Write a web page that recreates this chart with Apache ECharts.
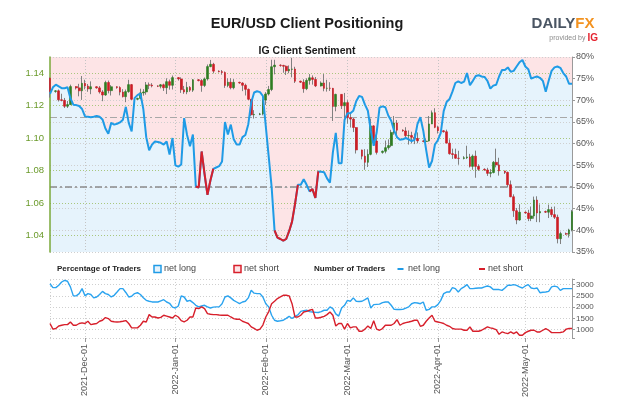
<!DOCTYPE html>
<html><head><meta charset="utf-8">
<script src="https://cdn.jsdelivr.net/npm/echarts@6/dist/echarts.min.js"></script>
<style>html,body{margin:0;padding:0;background:#fff}#c{width:624px;height:416px}</style>
</head><body><div id="c"></div>
<script>
// ---------- data ----------
const START_UTC = Date.UTC(2021, 10, 19);   // first day shown (2021-Nov-19)
const DAY_COUNT = 180;
const MONTHS = ['Jan','Feb','Mar','Apr','May','Jun','Jul','Aug','Sep','Oct','Nov','Dec'];
const priceLabels = [1.04, 1.06, 1.08, 1.10, 1.12, 1.14];
const countLabels = [1000, 1500, 2000, 2500, 3000];

// % of traders net long (right axis, top panel), one value per day
const sentiment = [
71.5,73.0,73.6,73.2,72.8,72.8,73.0,70.5,69.0,68.9,
68.7,68.0,66.3,66.2,66.1,66.2,66.4,66.2,65.6,63.5,
62.3,64.8,64.4,64.6,64.9,65.5,68.5,64.8,62.8,70.5,
71.2,71.6,68.0,61.5,58.5,59.8,60.5,60.4,60.2,59.8,
60.5,57.5,61.3,55.0,54.7,55.2,65.9,62.0,59.4,62.1,
50.1,49.9,58.2,53.0,48.2,51.5,54.2,54.5,54.8,55.9,
65.0,62.1,64.4,61.0,59.8,59.8,61.5,62.0,64.5,69.5,
71.8,72.1,71.9,71.0,64.0,57.0,50.0,40.0,38.3,38.0,
37.6,38.0,39.8,42.0,46.0,50.5,50.5,51.8,50.5,49.0,
49.5,47.5,53.6,53.5,53.4,52.0,51.0,58.0,62.5,55.5,
55.5,65.5,67.0,67.0,67.6,69.8,71.0,70.8,69.0,67.6,
63.0,59.5,62.5,68.3,68.6,68.4,66.5,65.3,63.0,61.5,
60.9,61.0,61.3,61.0,60.6,60.9,64.5,66.1,63.0,58.5,
54.5,56.0,59.8,60.8,62.5,67.5,69.6,70.3,72.0,74.0,
74.4,74.0,74.3,76.3,73.5,74.5,75.6,75.8,75.5,75.4,
74.5,72.7,73.4,73.6,75.5,77.0,77.0,77.6,76.6,76.8,
77.8,78.8,79.3,77.8,77.2,75.0,75.3,75.5,75.2,74.5,
72.0,74.5,76.8,77.6,77.8,77.5,76.3,75.5,73.8,73.8
];
// day-index ranges where the sentiment line is drawn red (net short)
const netShortRanges = [[50,56],[77,85],[89,92]];

// number of traders
const netLongCount = [
3040,2866,2866,2969,3116,3190,3150,2900,2500,2500,
2600,2822,2500,2600,2560,2410,2450,2560,2700,2600,
2560,2450,2525,2671,2822,2822,2650,2450,2480,2600,
2640,2560,2420,2300,2260,2230,2227,2227,2280,2330,
2227,2170,2000,1960,2050,2500,2450,2260,2300,2200,
2081,2010,2050,2081,2010,1960,2000,2010,2010,2150,
2450,2500,2410,2300,2227,2150,2227,2260,2410,2745,
2620,2600,2600,2450,2150,2010,1637,1415,1370,1390,
1415,1500,1590,1490,1590,1650,1810,1840,1860,1800,
1783,1770,1760,1800,1860,1860,2010,1934,1700,1600,
1960,2081,2300,2260,2410,2260,2250,2260,2330,2410,
1960,2110,2120,2130,2200,2227,2227,2081,1900,1890,
1890,1900,1950,2010,2150,2200,2180,2150,2227,1860,
1900,2010,2010,2110,2300,2600,2671,2671,2866,2822,
2671,2822,2900,3000,2822,2822,2840,2850,2850,2900,
2940,2900,2780,2780,2780,2745,2850,2969,2969,3000,
2969,2900,2850,2940,3000,2850,2822,2850,2640,2660,
2671,2700,2900,2930,2900,2745,2822,2822,2822,2822
];
const netShortCount = [
1270,1020,1046,1160,1190,1220,1220,1339,1193,1193,
1270,1300,1270,1370,1220,1250,1270,1370,1415,1535,
1490,1370,1350,1339,1350,1370,1400,1270,1075,1075,
1075,1193,1370,1339,1665,1560,1560,1515,1540,1637,
1600,1560,1515,1637,1560,1400,1339,1415,1560,1560,
1960,1934,2010,1934,1710,1680,1665,1665,1650,1637,
1637,1637,1560,1490,1460,1460,1370,1320,1270,1120,
1050,970,1020,1200,1560,1800,2150,2260,2378,2450,
2525,2525,2500,2150,1560,1560,1637,1783,1810,1860,
1900,1515,1515,1550,1590,1665,1783,1637,1160,1270,
1270,1020,1270,1075,1120,1120,925,925,1020,1160,
1046,1390,1020,970,1046,1193,1193,1193,1270,1445,
1193,1270,1310,1339,1370,1415,1415,1145,1193,1370,
1515,1637,1370,1339,1310,1270,1193,1145,1046,1020,
1020,1020,970,970,1120,925,925,925,970,1046,
1120,1075,1046,1000,790,895,850,820,895,820,
895,750,750,865,925,970,970,895,895,970,
1046,970,865,865,865,870,895,1020,1046,1046
];

// EUR/USD daily candles [open, close, low, high]; null = no candle (Saturday)
const candles = [
[1.1370,1.1288,1.1250,1.1374],null,[1.1288,1.1292,1.1280,1.1296],[1.1292,1.1237,1.1226,1.1300],[1.1237,1.1233,1.1227,1.1274],
[1.1233,1.1197,1.1186,1.1248],[1.1197,1.1207,1.1186,1.1229],[1.1207,1.1318,1.1206,1.1330],null,[1.1318,1.1310,1.1300,1.1320],
[1.1310,1.1292,1.1258,1.1335],[1.1292,1.1338,1.1236,1.1383],[1.1338,1.1321,1.1301,1.1360],[1.1321,1.1303,1.1286,1.1334],[1.1303,1.1317,1.1271,1.1350],
null,[1.1317,1.1310,1.1305,1.1320],[1.1310,1.1285,1.1275,1.1321],[1.1285,1.1266,1.1228,1.1296],[1.1266,1.1343,1.1261,1.1354],
[1.1343,1.1293,1.1276,1.1355],[1.1293,1.1317,1.1263,1.1327],null,[1.1317,1.1312,1.1305,1.1320],[1.1312,1.1284,1.1264,1.1320],
[1.1284,1.1256,1.1251,1.1302],[1.1256,1.1287,1.1222,1.1300],[1.1287,1.1330,1.1280,1.1360],[1.1330,1.1240,1.1235,1.1334],null,
[1.1240,1.1245,1.1235,1.1250],[1.1245,1.1279,1.1239,1.1305],[1.1279,1.1285,1.1262,1.1302],[1.1285,1.1328,1.1268,1.1346],[1.1328,1.1327,1.1302,1.1343],
[1.1327,1.1322,1.1313,1.1339],null,[1.1322,1.1320,1.1315,1.1326],[1.1320,1.1329,1.1307,1.1334],[1.1329,1.1311,1.1291,1.1336],
[1.1311,1.1348,1.1272,1.1369],[1.1348,1.1326,1.1299,1.1361],[1.1326,1.1373,1.1300,1.1386],null,[1.1373,1.1365,1.1355,1.1376],
[1.1365,1.1299,1.1279,1.1375],[1.1299,1.1285,1.1273,1.1322],[1.1285,1.1313,1.1271,1.1347],[1.1313,1.1296,1.1285,1.1321],[1.1296,1.1360,1.1285,1.1364],
null,[1.1360,1.1355,1.1350,1.1364],[1.1355,1.1325,1.1286,1.1364],[1.1325,1.1365,1.1315,1.1374],[1.1365,1.1441,1.1355,1.1454],
[1.1441,1.1455,1.1437,1.1482],[1.1455,1.1413,1.1399,1.1464],null,[1.1413,1.1410,1.1405,1.1418],[1.1410,1.1405,1.1391,1.1420],
[1.1405,1.1325,1.1310,1.1411],[1.1325,1.1345,1.1314,1.1369],[1.1345,1.1311,1.1301,1.1370],[1.1311,1.1344,1.1301,1.1364],null,
[1.1344,1.1340,1.1335,1.1348],[1.1340,1.1326,1.1290,1.1345],[1.1326,1.1301,1.1263,1.1336],[1.1301,1.1240,1.1234,1.1306],[1.1240,1.1144,1.1136,1.1240],
[1.1144,1.1147,1.1121,1.1173],null,[1.1147,1.1150,1.1142,1.1156],[1.1150,1.1235,1.1141,1.1244],[1.1235,1.1272,1.1205,1.1284],
[1.1272,1.1300,1.1263,1.1322],[1.1300,1.1440,1.1290,1.1483],[1.1440,1.1450,1.1393,1.1483],null,[1.1450,1.1448,1.1440,1.1455],
[1.1448,1.1443,1.1403,1.1452],[1.1443,1.1415,1.1389,1.1448],[1.1415,1.1424,1.1400,1.1448],[1.1424,1.1426,1.1375,1.1495],[1.1426,1.1351,1.1340,1.1440],
null,[1.1351,1.1345,1.1340,1.1355],[1.1345,1.1305,1.1280,1.1363],[1.1305,1.1356,1.1296,1.1369],[1.1356,1.1372,1.1330,1.1395],
[1.1372,1.1362,1.1330,1.1387],[1.1362,1.1322,1.1315,1.1377],null,[1.1322,1.1340,1.1318,1.1350],[1.1340,1.1307,1.1289,1.1395],
[1.1307,1.1308,1.1287,1.1360],[1.1308,1.1307,1.1291,1.1345],[1.1307,1.1196,1.1106,1.1310],[1.1196,1.1270,1.1166,1.1274],null,
[1.1270,1.1200,1.1180,1.1272],[1.1200,1.1219,1.1123,1.1279],[1.1219,1.1127,1.1090,1.1234],[1.1127,1.1118,1.1066,1.1152],[1.1118,1.1066,1.1038,1.1125],
[1.1066,1.0928,1.0906,1.1068],null,[1.0928,1.0890,1.0870,1.0930],[1.0890,1.0852,1.0806,1.0933],[1.0852,1.0901,1.0823,1.0932],
[1.0901,1.1076,1.0895,1.1121],[1.1076,1.0983,1.0970,1.1080],[1.0983,1.0913,1.0900,1.1044],null,[1.0913,1.0920,1.0905,1.0925],
[1.0920,1.0942,1.0907,1.0986],[1.0942,1.0955,1.0930,1.0993],[1.0955,1.1036,1.0945,1.1052],[1.1036,1.1094,1.1022,1.1137],[1.1094,1.1050,1.1004,1.1112],
null,[1.1050,1.1045,1.1040,1.1055],[1.1045,1.1016,1.0999,1.1068],[1.1016,1.1017,1.0961,1.1048],[1.1017,1.1006,1.0968,1.1040],
[1.1006,1.0999,1.0964,1.1029],[1.0999,1.0984,1.0969,1.1036],null,[1.0984,1.0980,1.0975,1.0990],[1.0980,1.0983,1.0944,1.0996],
[1.0983,1.1088,1.0980,1.1137],[1.1088,1.1157,1.1087,1.1171],[1.1157,1.1067,1.1062,1.1185],[1.1067,1.1046,1.1029,1.1077],null,
[1.1046,1.1040,1.1035,1.1050],[1.1040,1.0970,1.0969,1.1053],[1.0970,1.0905,1.0899,1.0993],[1.0905,1.0900,1.0873,1.0936],[1.0900,1.0877,1.0874,1.0936],
[1.0877,1.0876,1.0837,1.0923],null,[1.0876,1.0880,1.0870,1.0890],[1.0880,1.0885,1.0872,1.0954],[1.0885,1.0827,1.0820,1.0904],
[1.0827,1.0890,1.0806,1.0900],[1.0890,1.0827,1.0757,1.0924],[1.0827,1.0809,1.0799,1.0840],null,[1.0809,1.0805,1.0800,1.0815],
[1.0805,1.0784,1.0768,1.0818],[1.0784,1.0789,1.0760,1.0810],[1.0789,1.0852,1.0784,1.0860],[1.0852,1.0836,1.0821,1.0936],[1.0836,1.0799,1.0770,1.0880],
null,[1.0799,1.0790,1.0780,1.0800],[1.0790,1.0714,1.0697,1.0795],[1.0714,1.0640,1.0637,1.0740],[1.0640,1.0554,1.0516,1.0655],
[1.0554,1.0497,1.0471,1.0571],[1.0497,1.0545,1.0492,1.0594],null,[1.0545,1.0540,1.0535,1.0550],[1.0540,1.0506,1.0490,1.0560],
[1.0506,1.0522,1.0490,1.0580],[1.0522,1.0620,1.0505,1.0641],[1.0620,1.0540,1.0484,1.0643],[1.0540,1.0549,1.0483,1.0593],null,
[1.0549,1.0545,1.0540,1.0555],[1.0545,1.0561,1.0509,1.0592],[1.0561,1.0530,1.0516,1.0578],[1.0530,1.0514,1.0503,1.0580],[1.0514,1.0382,1.0353,1.0530],
[1.0382,1.0413,1.0349,1.0425],null,[1.0413,1.0410,1.0405,1.0420],[1.0410,1.0436,1.0389,1.0443],[1.0436,1.0548,1.0427,1.0559]
];

// ---------- build ----------
const days = [];
for (let i = 0; i < DAY_COUNT; i++) {
  const d = new Date(START_UTC + i * 864e5);
  days.push(d.getUTCFullYear() + '-' + MONTHS[d.getUTCMonth()] + '-' + String(d.getUTCDate()).padStart(2, '0'));
}
const isMonthStart = (idx, val) => String(val === undefined ? days[idx] : val).endsWith('-01');
const NA = ['-','-','-','-'];
const bodyData = candles.map(c => c ? [c[0], c[1], Math.min(c[0], c[1]), Math.max(c[0], c[1])] : NA);
const wickData = candles.map(c => c ? [c[2], c[3], c[2], c[3]] : NA);
const inShort = i => netShortRanges.some(r => i >= r[0] && i <= r[1]);
const redLine = sentiment.map((v, i) => inShort(i) ? v : '-');

const FONT = "'Liberation Sans', Arial, sans-serif";
const NARROW = "'Liberation Sans Narrow', 'Liberation Sans', Arial, sans-serif";
const BLUE = '#1f9be6', RED = '#d71f2b';
const GRID = { left: 50, right: 52 };
const dotted = c => ({ color: c, type: [1, 2], width: 1 });
const noMarkSym = ['none', 'none'];

const option = {
  animation: false,
  backgroundColor: '#fff',
  grid: [
    { left: GRID.left, right: GRID.right, top: 57, height: 195, show: true, backgroundColor: '#fde4e6', borderWidth: 0, z: 0 },
    { left: GRID.left, right: GRID.right, top: 279, height: 59, show: false }
  ],
  xAxis: [
    { type: 'category', gridIndex: 0, data: days, boundaryGap: false, z: 2,
      axisLine: { show: false }, axisTick: { show: false }, axisLabel: { show: false },
      splitLine: { show: true, interval: isMonthStart, lineStyle: dotted('#c4c4c4') } },
    { type: 'category', gridIndex: 1, data: days, boundaryGap: false, z: 2,
      axisLine: { show: false },
      axisTick: { show: true, interval: isMonthStart, length: 4, lineStyle: { color: '#999' } },
      axisLabel: { show: true, interval: isMonthStart, rotate: 90, fontSize: 9, color: '#555', fontFamily: FONT, margin: 6 },
      splitLine: { show: true, interval: isMonthStart, lineStyle: dotted('#cfcfcf') } }
  ],
  yAxis: [
    { type: 'value', gridIndex: 0, position: 'left', min: 1.03, max: 1.15, interval: 0.01, z: 2,
      axisLine: { show: true, lineStyle: { color: '#7aa83a', width: 1.5 } },
      axisTick: { show: false }, splitLine: { show: false },
      axisLabel: { color: '#6a9a2a', fontSize: 9.5, fontFamily: NARROW, margin: 6,
        formatter: v => { const k = Math.round(v * 100); return (k % 2 === 0 && k >= 104 && k <= 114) ? v.toFixed(2) : ''; } } },
    { type: 'value', gridIndex: 0, position: 'right', min: 35, max: 80, interval: 5, z: 2,
      axisLine: { show: true, lineStyle: { color: '#9a9a9a' } },
      axisTick: { show: true, length: 3, lineStyle: { color: '#9a9a9a' } },
      axisLabel: { formatter: '{value}%', color: '#555', fontSize: 9, fontFamily: NARROW, margin: 4 },
      splitLine: { show: true, lineStyle: dotted('#cfcfcf') } },
    { type: 'value', gridIndex: 1, position: 'right', min: 625, max: 3250, interval: 125, z: 2,
      axisLine: { show: true, lineStyle: { color: '#9a9a9a' } },
      axisTick: { show: true, length: 3, customValues: [625, 1000, 1500, 2000, 2500, 3000, 3250], lineStyle: { color: '#9a9a9a' } },
      axisLabel: { customValues: countLabels, color: '#555', fontSize: 8, fontFamily: NARROW, margin: 4,
        formatter: v => (v % 500 === 0 && v >= 1000 && v <= 3000) ? String(v) : '' },
      splitLine: { show: false } }
  ],
  series: [
    { name: 'area', type: 'line', xAxisIndex: 0, yAxisIndex: 1, data: sentiment, z: 1, silent: true,
      symbol: 'none', lineStyle: { width: 0 }, areaStyle: { color: '#e6f3fc', opacity: 1, origin: 'start' } },
    { name: 'priceGuides', type: 'line', xAxisIndex: 0, yAxisIndex: 0, data: [], z: 2, silent: true,
      markLine: { silent: true, symbol: noMarkSym, label: { show: false }, z: 2,
        lineStyle: dotted('#a9c77d'),
        data: priceLabels.map(p => ({ yAxis: p })) } },
    { name: 'pctGuides', type: 'line', xAxisIndex: 0, yAxisIndex: 1, data: [], z: 2, silent: true,
      markLine: { silent: true, symbol: noMarkSym, label: { show: false }, z: 2,
        data: [
          { yAxis: 66.2, lineStyle: { color: '#a8a8a8', type: [7, 3, 2, 3], width: 1.2 } },
          { yAxis: 50, lineStyle: { color: '#8a8a8a', type: [7, 3, 2, 3], width: 1.5 } }
        ] } },
    { name: 'wick', type: 'candlestick', xAxisIndex: 0, yAxisIndex: 0, data: wickData, z: 3, silent: true,
      barWidth: 0.4, itemStyle: { color: '#808080', color0: '#808080', borderColor: '#808080', borderColor0: '#808080', borderWidth: 1 } },
    { name: 'price', type: 'candlestick', xAxisIndex: 0, yAxisIndex: 0, data: bodyData, z: 3, silent: true,
      barWidth: 2.2, itemStyle: { color: '#2f7d22', color0: '#cc1d25', borderColor: '#2f7d22', borderColor0: '#cc1d25', borderWidth: 0.6 } },
    { name: 'net long %', type: 'line', xAxisIndex: 0, yAxisIndex: 1, data: sentiment, z: 4, silent: true,
      symbol: 'none', lineStyle: { color: BLUE, width: 2 } },
    { name: 'net short %', type: 'line', xAxisIndex: 0, yAxisIndex: 1, data: redLine, z: 5, silent: true,
      symbol: 'none', connectNulls: false, lineStyle: { color: RED, width: 2 } },
    { name: 'countGuides', type: 'line', xAxisIndex: 1, yAxisIndex: 2, data: [], z: 1, silent: true,
      markLine: { silent: true, symbol: noMarkSym, label: { show: false }, z: 1,
        lineStyle: dotted('#cfcfcf'),
        data: [625, 1000, 1500, 2000, 2500, 3000, 3250].map(v => ({ yAxis: v })).concat([{ xAxis: days[0] }]) } },
    { name: 'net long', type: 'line', xAxisIndex: 1, yAxisIndex: 2, data: netLongCount, z: 3, silent: true,
      symbol: 'none', lineStyle: { color: '#2aa3ef', width: 1.4 } },
    { name: 'net short', type: 'line', xAxisIndex: 1, yAxisIndex: 2, data: netShortCount, z: 3, silent: true,
      symbol: 'none', lineStyle: { color: RED, width: 1.4 } }
  ],
  graphic: [
    { type: 'text', x: 307, y: 24, style: { text: 'EUR/USD Client Positioning', font: 'bold 14.5px ' + FONT, fill: '#1a1a1a', align: 'center', verticalAlign: 'middle', textAlign: 'center', textVerticalAlign: 'middle' } },
    { type: 'text', x: 307, y: 51, style: { text: 'IG Client Sentiment', font: 'bold 10.5px ' + FONT, fill: '#1a1a1a', align: 'center', verticalAlign: 'middle', textAlign: 'center', textVerticalAlign: 'middle' } },
    { type: 'text', x: 563, y: 24, style: { text: '{a|DAILY}{b|FX}', align: 'center', verticalAlign: 'middle', textAlign: 'center', textVerticalAlign: 'middle',
        rich: { a: { fill: '#4a5563', font: 'bold 15px ' + FONT }, b: { fill: '#f39321', font: 'bold 15px ' + FONT } } } },
    { type: 'text', x: 598, y: 38, style: { text: '{p|provided by }{g|IG}', align: 'right', verticalAlign: 'middle', textAlign: 'right', textVerticalAlign: 'middle',
        rich: { p: { fill: '#8a8a8a', font: '7px ' + FONT }, g: { fill: '#e4222e', font: 'bold 10px ' + FONT } } } },
    { type: 'text', x: 57, y: 269, style: { text: 'Percentage of Traders', font: 'bold 8px ' + NARROW, fill: '#222', verticalAlign: 'middle', textVerticalAlign: 'middle' } },
    { type: 'rect', shape: { x: 154, y: 265.5, width: 7, height: 7 }, style: { fill: '#e6f3fc', stroke: BLUE, lineWidth: 1.5 } },
    { type: 'text', x: 164, y: 269, style: { text: 'net long', font: '9px ' + NARROW, fill: '#444', verticalAlign: 'middle', textVerticalAlign: 'middle' } },
    { type: 'rect', shape: { x: 234, y: 265.5, width: 7, height: 7 }, style: { fill: '#fde4e6', stroke: RED, lineWidth: 1.5 } },
    { type: 'text', x: 244, y: 269, style: { text: 'net short', font: '9px ' + NARROW, fill: '#444', verticalAlign: 'middle', textVerticalAlign: 'middle' } },
    { type: 'text', x: 314, y: 269, style: { text: 'Number of Traders', font: 'bold 8px ' + NARROW, fill: '#222', verticalAlign: 'middle', textVerticalAlign: 'middle' } },
    { type: 'line', shape: { x1: 397.5, y1: 269, x2: 403.5, y2: 269 }, style: { stroke: BLUE, lineWidth: 2 } },
    { type: 'text', x: 408, y: 269, style: { text: 'net long', font: '9px ' + NARROW, fill: '#444', verticalAlign: 'middle', textVerticalAlign: 'middle' } },
    { type: 'line', shape: { x1: 479, y1: 269, x2: 485, y2: 269 }, style: { stroke: RED, lineWidth: 2 } },
    { type: 'text', x: 488, y: 269, style: { text: 'net short', font: '9px ' + NARROW, fill: '#444', verticalAlign: 'middle', textVerticalAlign: 'middle' } }
  ]
};

const chart = echarts.init(document.getElementById('c'), null, { renderer: 'canvas' });
chart.setOption(option);
</script>
</body></html>
